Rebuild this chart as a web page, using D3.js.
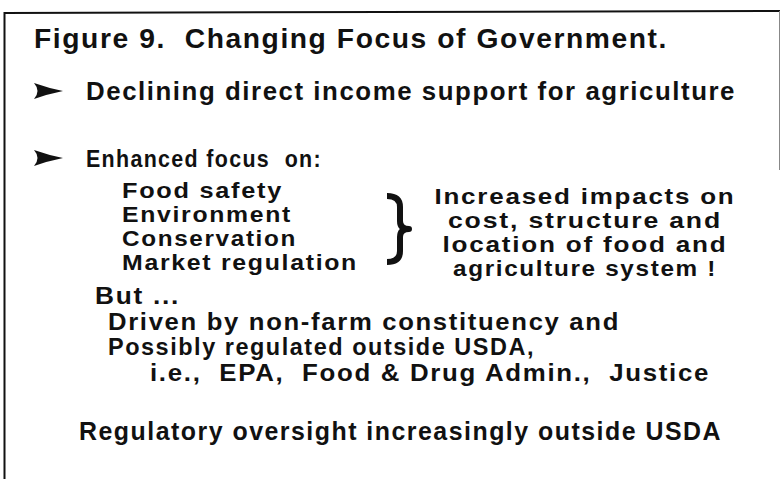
<!DOCTYPE html>
<html>
<head>
<meta charset="utf-8">
<script src="https://cdn.jsdelivr.net/npm/d3@7"></script>
<style>
  html, body { margin: 0; padding: 0; background: #fff; }
  text { font-family: "Liberation Sans", Arial, Helvetica, sans-serif; font-weight: bold; fill: #111; letter-spacing: 1.5px; }
</style>
</head>
<body>
<div id="slide"></div>
<script>
// slide text
const titleText = "Figure 9.  Changing Focus of Government.";
const bulletLines = ["Declining direct income support for agriculture", "Enhanced focus  on:"];
const focusItems = ["Food safety", "Environment", "Conservation", "Market regulation"];
const impactLines = ["Increased impacts on", "cost, structure and", "location of food and", "agriculture system !"];
const butLines = ["But ...", "Driven by non-farm constituency and", "Possibly regulated outside USDA,", "i.e.,  EPA,  Food & Drug Admin.,  Justice"];
const footerText = "Regulatory oversight increasingly outside USDA";

// layout (x start, baseline, right end, font size)
const bulletLayout = [
    {x: 86, y: 100, end: 736, size: 25},
    {x: 86, y: 167, end: 322, size: 24}
];
const focusEnds = [283, 292, 297, 358];
const impactWidths = [301, 274, 285, 264];
const butLayout = [
    {x: 95, y: 304, end: 180},
    {x: 108, y: 330, end: 620},
    {x: 108, y: 355, end: 535},
    {x: 150, y: 381, end: 710}
];

const width = 783, height = 479;

const svg = d3.select('#slide')
    .append('svg')
    .attr('width', width)
    .attr('height', height);

// frame
svg.append('line')
    .attr('x1', 4).attr('y1', 13).attr('x2', 780).attr('y2', 11)
    .attr('stroke', '#111').attr('stroke-width', 2);
svg.append('line')
    .attr('x1', 4.5).attr('y1', 12).attr('x2', 4.5).attr('y2', height)
    .attr('stroke', '#111').attr('stroke-width', 2);
svg.append('line')
    .attr('x1', 779.5).attr('y1', 11).attr('x2', 779.5).attr('y2', 170)
    .attr('stroke', '#888').attr('stroke-width', 1);

function fitText(sel, w) {
    sel.attr('textLength', w).attr('lengthAdjust', 'spacingAndGlyphs');
}

// title
svg.append('text')
    .attr('x', 34).attr('y', 48)
    .style('font-size', '27px')
    .style('white-space', 'pre')
    .text(titleText)
    .call(fitText, 668 - 34);

// bullets with arrowheads
const arrow = "M0,-8 Q14,-3 29,0 Q14,3 0,8 Q7,0 0,-8 Z";
svg.selectAll('path.arrow')
    .data(bulletLayout)
    .enter()
    .append('path')
    .attr('class', 'arrow')
    .attr('d', arrow)
    .attr('fill', '#111')
    .attr('transform', d => `translate(34, ${d.y - 9})`);

svg.selectAll('text.bullet')
    .data(bulletLines)
    .enter()
    .append('text')
    .attr('class', 'bullet')
    .attr('x', (d, i) => bulletLayout[i].x)
    .attr('y', (d, i) => bulletLayout[i].y)
    .style('font-size', (d, i) => bulletLayout[i].size + 'px')
    .style('white-space', 'pre')
    .text(d => d)
    .each(function(d, i) { d3.select(this).call(fitText, bulletLayout[i].end - bulletLayout[i].x); });

// focus list
const yFocus = d3.scaleLinear().domain([0, 3]).range([198, 270]);
svg.selectAll('text.focus')
    .data(focusItems)
    .enter()
    .append('text')
    .attr('class', 'focus')
    .attr('x', 122)
    .attr('y', (d, i) => yFocus(i))
    .style('font-size', '22px')
    .text(d => d)
    .each(function(d, i) { d3.select(this).call(fitText, focusEnds[i] - 122); });

// brace
const bTop = 196, bBot = 262, bMid = (bTop + bBot) / 2;
const brace = d3.path();
brace.moveTo(387, bTop);
brace.quadraticCurveTo(400, bTop, 400, bTop + 11);
brace.lineTo(400, bMid - 8);
brace.quadraticCurveTo(400, bMid, 409, bMid);
brace.quadraticCurveTo(400, bMid, 400, bMid + 8);
brace.lineTo(400, bBot - 11);
brace.quadraticCurveTo(400, bBot, 387, bBot);
svg.append('path')
    .attr('d', brace.toString())
    .attr('fill', 'none')
    .attr('stroke', '#111')
    .attr('stroke-width', 6)
    .attr('stroke-linejoin', 'round');

// impacts
const yImpact = d3.scaleLinear().domain([0, 3]).range([204, 276]);
svg.selectAll('text.impact')
    .data(impactLines)
    .enter()
    .append('text')
    .attr('class', 'impact')
    .attr('x', 585)
    .attr('y', (d, i) => yImpact(i))
    .attr('text-anchor', 'middle')
    .style('font-size', '22px')
    .text(d => d)
    .each(function(d, i) { d3.select(this).call(fitText, impactWidths[i]); });

// but block
svg.selectAll('text.but')
    .data(butLines)
    .enter()
    .append('text')
    .attr('class', 'but')
    .attr('x', (d, i) => butLayout[i].x)
    .attr('y', (d, i) => butLayout[i].y)
    .style('font-size', '23px')
    .style('white-space', 'pre')
    .text(d => d)
    .each(function(d, i) { d3.select(this).call(fitText, butLayout[i].end - butLayout[i].x); });

// footer
svg.append('text')
    .attr('x', 79).attr('y', 440)
    .style('font-size', '25px')
    .text(footerText)
    .call(fitText, 722 - 79);
</script>
</body>
</html>
